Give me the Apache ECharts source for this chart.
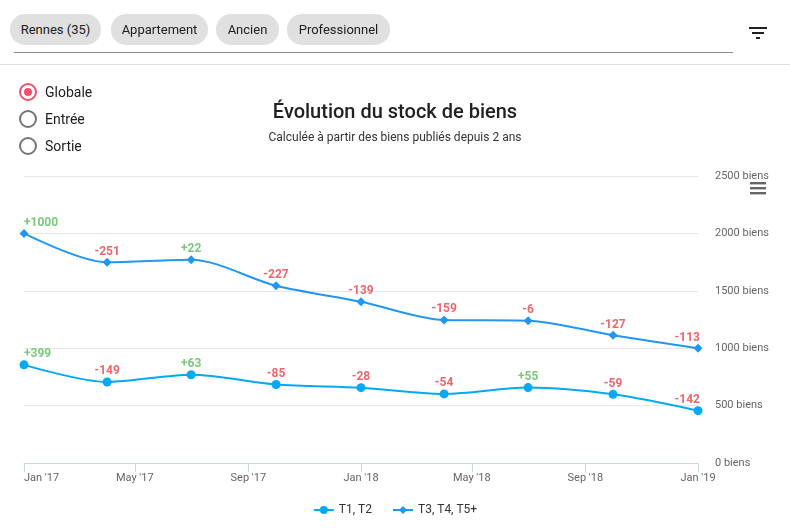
<!DOCTYPE html>
<html><head><meta charset="utf-8">
<script src="https://cdn.jsdelivr.net/npm/echarts@6/dist/echarts.min.js"></script>
<style>
html,body{margin:0;padding:0;background:#fff;font-family:Roboto,sans-serif;}
#wrap{position:relative;width:790px;height:529px;overflow:hidden;}
#chart{position:absolute;left:0;top:0;width:790px;height:529px;}
.chip{position:absolute;top:14px;height:31px;line-height:31px;border-radius:15px;background:#e0e0e0;color:#212121;font-size:13px;text-align:center;}
.rad{position:absolute;left:19px;width:14px;height:14px;border:2px solid #757575;border-radius:50%;}
.rad.on{border-color:#f0506e;}
.rad.on::after{content:"";position:absolute;left:3px;top:3px;width:8px;height:8px;border-radius:50%;background:#f0506e;}
.rl{position:absolute;left:45px;font-size:14px;color:#212121;line-height:16px;}
.fl{position:absolute;height:3px;background:#212121;}
</style></head>
<body><div id="wrap">
<div id="chart"></div>
<div class="chip" style="left:10px;width:91px">Rennes (35)</div>
<div class="chip" style="left:111px;width:97px">Appartement</div>
<div class="chip" style="left:216px;width:63px">Ancien</div>
<div class="chip" style="left:287px;width:103px">Professionnel</div>
<div style="position:absolute;left:14px;top:52px;width:719px;height:1px;background:#8c8c8c"></div>
<div style="position:absolute;left:0;top:64px;width:790px;height:1px;background:#e0e0e0"></div>
<div class="fl" style="left:749px;top:27px;width:18px;height:2px"></div>
<div class="fl" style="left:752px;top:32px;width:12px;height:2px"></div>
<div class="fl" style="left:756px;top:37px;width:4px;height:2px"></div>
<div class="rad on" style="top:83px"></div><div class="rl" style="top:84px">Globale</div>
<div class="rad" style="top:110px"></div><div class="rl" style="top:111px">Entrée</div>
<div class="rad" style="top:137px"></div><div class="rl" style="top:138px">Sortie</div>
</div>
<script>
var dates = ['2017-01-01','2017-04-01','2017-07-01','2017-10-01','2018-01-01','2018-04-01','2018-07-01','2018-10-01','2019-01-01'];
var tickDates = ['2017-01-01','2017-05-01','2017-09-01','2018-01-01','2018-05-01','2018-09-01','2019-01-01'];
var tickLabels = ["Jan '17","May '17","Sep '17","Jan '18","May '18","Sep '18","Jan '19"];
var seriesNames = ['T1, T2','T3, T4, T5+'];
var t12Values = [855, 706, 769, 684, 656, 602, 657, 598, 456];
var t12Deltas = [399, -149, 63, -85, -28, -54, 55, -59, -142];
var t345Values = [2000, 1749, 1771, 1544, 1405, 1246, 1240, 1113, 1000];
var t345Deltas = [1000, -251, 22, -227, -139, -159, -6, -127, -113];

function ts(d){ var p=d.split('-'); return Date.UTC(+p[0], +p[1]-1, +p[2]); }
var tickTs = tickDates.map(ts);
function fmtDelta(v){ return (v>0?'+':'')+v; }
function mkData(vals, deltas){
  var n = vals.length;
  return vals.map(function(v,i){
    var lab = {formatter: fmtDelta(deltas[i]), color: deltas[i]>0?'#7cc77c':'#e8686e'};
    if (i === 0) { lab.align = 'left'; lab.offset = [0, 0]; }
    if (i === n-1) { lab.align = 'right'; lab.offset = [2, 0]; }
    return {value:[ts(dates[i]), v], label:lab};
  });
}
var chart = echarts.init(document.getElementById('chart'), null, {renderer:'canvas'});
chart.setOption({
  animation:false,
  textStyle:{fontFamily:'Roboto'},
  title:{text:'Évolution du stock de biens', subtext:'Calculée à partir des biens publiés depuis 2 ans',
    left:'center', top:98, itemGap:9,
    textStyle:{fontSize:20, fontWeight:500, color:'#212121', fontFamily:'Roboto'},
    subtextStyle:{fontSize:12, color:'#333', fontFamily:'Roboto'}},
  legend:{bottom:8, left:'center', itemWidth:20, itemHeight:10, itemGap:20,
    textStyle:{fontSize:12, color:'#333', fontFamily:'Roboto'}, data:seriesNames},
  grid:{left:24, right:92, top:176, bottom:66},
  xAxis:{type:'value', min:ts(dates[0]), max:ts(dates[dates.length-1]),
    axisLine:{lineStyle:{color:'#ccd6eb'}},
    axisTick:{show:true, length:9, lineStyle:{color:'#ccd6eb'}, customValues:tickTs},
    splitLine:{show:false},
    axisLabel:{customValues:tickTs, color:'#666', fontSize:11, margin:10, alignMinLabel:'left',
      formatter:function(v){ var i=tickTs.indexOf(v); return i>=0?tickLabels[i]:''; }}},
  yAxis:{type:'value', position:'right', min:0, max:2500, interval:500,
    axisLine:{show:false}, axisTick:{show:false},
    splitLine:{lineStyle:{color:'#e6e6e6'}},
    axisLabel:{color:'#666', fontSize:11, margin:17, verticalAlign:'middle',
      formatter:function(v){ return v + ' biens'; }}},
  graphic:[
    {type:'rect', left:750, top:182, shape:{width:16,height:2.4}, style:{fill:'#666'}},
    {type:'rect', left:750, top:187, shape:{width:16,height:2.4}, style:{fill:'#666'}},
    {type:'rect', left:750, top:192, shape:{width:16,height:2.4}, style:{fill:'#666'}}
  ],
  series:[
    {name:seriesNames[0], type:'line', smooth:0.3, data:mkData(t12Values,t12Deltas),
      symbol:'circle', symbolSize:9, color:'#03a9f4', lineStyle:{width:2},
      label:{show:true, position:'top', distance:0, fontSize:12, fontWeight:'bold'}},
    {name:seriesNames[1], type:'line', smooth:0.3, data:mkData(t345Values,t345Deltas),
      symbol:'diamond', symbolSize:9, color:'#2196f3', lineStyle:{width:2},
      label:{show:true, position:'top', distance:0, fontSize:12, fontWeight:'bold'}}
  ]
});
</script></body></html>
